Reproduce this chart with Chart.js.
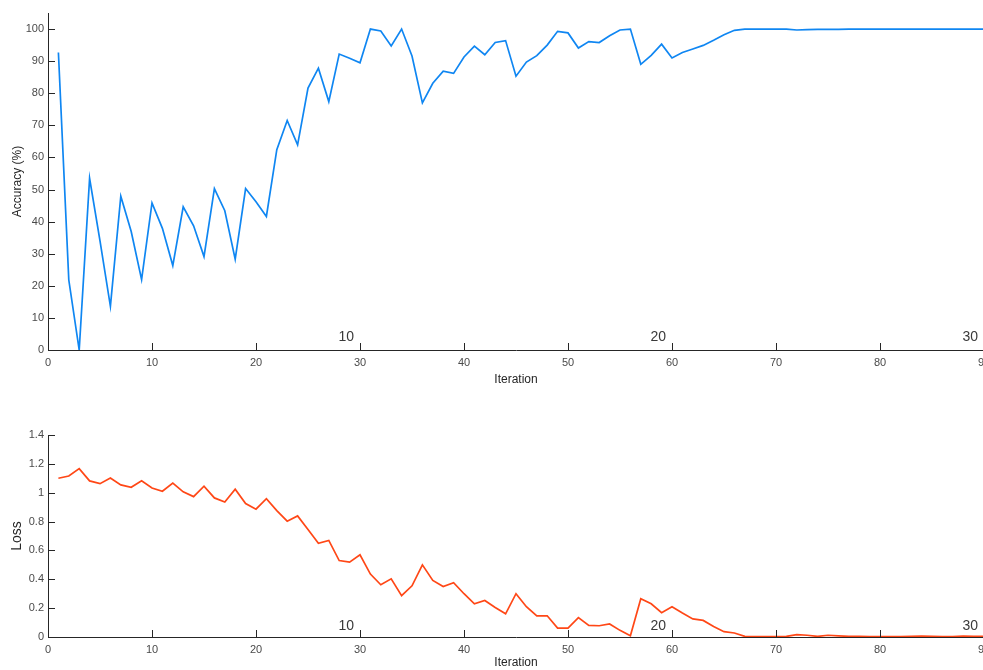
<!DOCTYPE html>
<html>
<head>
<meta charset="utf-8">
<script src="https://cdn.jsdelivr.net/npm/chart.js@4/dist/chart.umd.min.js"></script>
<style>
  html, body { margin: 0; padding: 0; background: #fff; overflow: hidden; }
  #wrap { position: relative; width: 983px; height: 670px; overflow: hidden; }
  .panel { position: absolute; left: 0; width: 1010px; }
  #accPanel { top: 0; height: 395px; }
  #lossPanel { top: 400px; height: 270px; }
</style>
</head>
<body>
<div id="wrap">
  <div class="panel" id="accPanel"><canvas id="accChart"></canvas></div>
  <div class="panel" id="lossPanel"><canvas id="lossChart"></canvas></div>
</div>
<script>
// Training progress: accuracy and loss per iteration
const accuracy = [
  92.7, 21.8, 0, 53.5, 34, 13.6, 47.9, 36.9, 21.9, 45.8,
  37.9, 26.3, 44.6, 38.7, 29.1, 50.3, 43.4, 28.3, 50.3, 46.2,
  41.6, 62.4, 71.5, 63.9, 81.6, 87.8, 77.4, 92.2, 90.9, 89.5,
  100, 99.4, 94.7, 100, 91.6, 77.0, 83.1, 86.9, 86.2, 91.3,
  94.7, 92.0, 95.8, 96.4, 85.3, 89.7, 91.7, 95.0, 99.3, 98.8,
  94.1, 96.1, 95.8, 97.9, 99.7, 100, 89.0, 91.8, 95.3, 91.0,
  92.7, 93.8, 94.9, 96.5, 98.2, 99.6, 100, 100, 100, 100,
  100, 99.7, 99.8, 99.9, 99.9, 99.9, 100, 100, 100, 100,
  100, 100, 100, 100, 100, 100, 100, 100, 100, 100
];
const loss = [
  1.100, 1.116, 1.167, 1.082, 1.063, 1.102, 1.054, 1.038, 1.082, 1.033,
  1.010, 1.066, 1.006, 0.973, 1.045, 0.964, 0.936, 1.024, 0.925, 0.886,
  0.959, 0.876, 0.803, 0.839, 0.745, 0.650, 0.669, 0.530, 0.519, 0.570,
  0.436, 0.362, 0.403, 0.286, 0.355, 0.500, 0.392, 0.350, 0.376, 0.300,
  0.230, 0.253, 0.205, 0.161, 0.300, 0.210, 0.147, 0.147, 0.062, 0.062,
  0.134, 0.080, 0.078, 0.090, 0.046, 0.009, 0.265, 0.230, 0.168, 0.210,
  0.166, 0.125, 0.115, 0.073, 0.037, 0.028, 0.004, 0.003, 0.003, 0.003,
  0.004, 0.016, 0.012, 0.004, 0.012, 0.008, 0.004, 0.004, 0.003, 0.003,
  0.003, 0.003, 0.004, 0.006, 0.004, 0.003, 0.003, 0.006, 0.004, 0.004
];
const iterationTicks = [0, 10, 20, 30, 40, 50, 60, 70, 80, 90];
const accuracyTicks = [0, 10, 20, 30, 40, 50, 60, 70, 80, 90, 100];
const lossTicks = [0, 0.2, 0.4, 0.6, 0.8, 1, 1.2, 1.4];
const epochIterations = [30, 60, 90];
const epochLabels = ['10', '20', '30'];

const AXIS = '#262626';
const TICK_TXT = '#4a4a4a';
const FONT = "'Liberation Sans', Arial, Helvetica, sans-serif";

// plain number text: 1 instead of 1.0, 0.2 instead of 0.20
const plainNumber = v => String(Number(v.toFixed(2)));

// inward tick marks plus epoch numbers above the iteration axis
const innerTicks = {
  id: 'innerTicks',
  afterDraw(chart) {
    const ctx = chart.ctx;
    const xs = chart.scales.x, ys = chart.scales.y;
    const area = chart.chartArea;
    ctx.save();
    ctx.strokeStyle = AXIS;
    ctx.lineWidth = 1;
    ctx.beginPath();
    xs.ticks.forEach(t => {
      const px = Math.round(xs.getPixelForValue(t.value)) + 0.5;
      ctx.moveTo(px, area.bottom);
      ctx.lineTo(px, area.bottom - 7);
    });
    ys.ticks.forEach(t => {
      const py = Math.round(ys.getPixelForValue(t.value)) + 0.5;
      ctx.moveTo(area.left, py);
      ctx.lineTo(area.left + 7, py);
    });
    ctx.stroke();
    ctx.fillStyle = '#3a3a3a';
    ctx.font = '14px ' + FONT;
    ctx.textAlign = 'right';
    ctx.textBaseline = 'middle';
    epochIterations.forEach((it, i) => {
      const px = xs.getPixelForValue(it);
      ctx.fillText(epochLabels[i], px - 6, area.bottom - chart.options.epochOffset);
    });
    ctx.restore();
  }
};

function makeChart(id, values, color, yTicks, yMax, yTitle, yTitleSize, cfg) {
  const points = values.map((v, i) => ({ x: i + 1, y: v }));
  return new Chart(document.getElementById(id), {
    type: 'line',
    data: {
      datasets: [{
        data: points,
        borderColor: color,
        borderWidth: 1.7,
        pointRadius: 0,
        tension: 0,
        fill: false
      }]
    },
    options: {
      responsive: true,
      maintainAspectRatio: false,
      animation: false,
      epochOffset: cfg.epochOffset,
      layout: { padding: { top: cfg.padTop, right: 26, left: 0, bottom: 0 } },
      plugins: { legend: { display: false }, tooltip: { enabled: false } },
      scales: {
        x: {
          type: 'linear',
          min: 0,
          max: 90,
          afterBuildTicks: s => { s.ticks = iterationTicks.map(v => ({ value: v })); },
          afterFit: s => { s.height = cfg.xHeight; },
          grid: { display: true, drawOnChartArea: false, drawTicks: false },
          border: { display: true, color: AXIS, width: 1 },
          ticks: { color: TICK_TXT, font: { family: FONT, size: 11 }, padding: 6, maxRotation: 0, callback: plainNumber },
          title: {
            display: true, text: 'Iteration', color: AXIS,
            font: { family: FONT, size: 12 }, padding: { top: 0, bottom: cfg.titlePad }
          }
        },
        y: {
          type: 'linear',
          min: 0,
          max: yMax,
          afterBuildTicks: s => { s.ticks = yTicks.map(v => ({ value: v })); },
          afterFit: s => { s.width = 48; },
          grid: { display: true, drawOnChartArea: false, drawTicks: false },
          border: { display: true, color: AXIS, width: 1 },
          ticks: { color: TICK_TXT, font: { family: FONT, size: 11 }, padding: 4, callback: plainNumber },
          title: {
            display: true, text: yTitle, color: AXIS,
            font: { family: FONT, size: yTitleSize }, padding: { top: cfg.yTitlePad, bottom: 0 }
          }
        }
      }
    },
    plugins: [innerTicks]
  });
}

makeChart('accChart', accuracy, '#0f86f2', accuracyTicks, 105, 'Accuracy (%)', 12,
  { padTop: 13, xHeight: 45, titlePad: 8, yTitlePad: 10, epochOffset: 13 });
makeChart('lossChart', loss, '#ff4716', lossTicks, 1.4, 'Loss', 14,
  { padTop: 35, xHeight: 33, titlePad: 0, yTitlePad: 9, epochOffset: 11 });
</script>
</body>
</html>
